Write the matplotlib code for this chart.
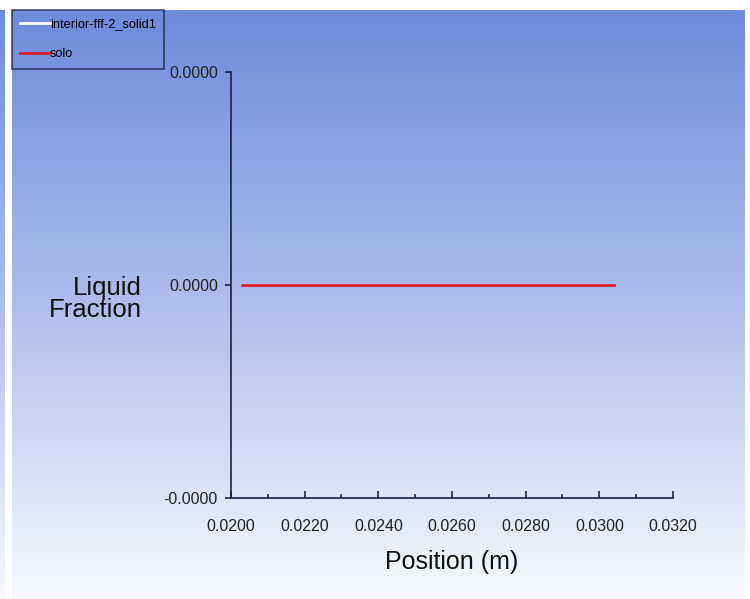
import numpy as np
import matplotlib
matplotlib.use("Agg")
import matplotlib.pyplot as plt
from matplotlib.colors import LinearSegmentedColormap
from matplotlib.ticker import MultipleLocator, FormatStrFormatter

plt.rcParams["font.family"] = ["Liberation Sans", "DejaVu Sans"]

# data
position = [0.0203, 0.0304]
liquid_fraction = [0.0, 0.0]
interior_position = [0.0203, 0.0304]
interior_fraction = [0.0, 0.0]
series_labels = ["interior-fff-2_solid1", "solo"]

W, H = 750, 599
fig = plt.figure(figsize=(7.5, 5.99), dpi=100, facecolor="white")

# gradient background, like the Fluent plot window
grad = LinearSegmentedColormap.from_list("bg", ["#6d8bdc", "#aebeec", "#f8f9fe"])
g = np.linspace(0, 1, 256).reshape(-1, 1)
for x0, x1 in [(0, 5), (12, 745)]:
    bg = fig.add_axes([x0 / W, 0, (x1 - x0) / W, 1 - 10 / H], zorder=-5)
    bg.imshow(g, aspect="auto", cmap=grad, extent=[0, 1, 0, 1])
    bg.axis("off")

ax = fig.add_axes([231 / W, 1 - 498 / H, 442 / W, 426 / H])
ax.patch.set_alpha(0)
ax.plot(interior_position, interior_fraction, color="white", lw=2, label=series_labels[0])
ax.plot(position, liquid_fraction, color="#dd1c2c", lw=2, label=series_labels[1])

ax.set_xlim(0.02, 0.032)
ax.set_ylim(-5e-6, 5e-6)
ax.xaxis.set_major_locator(MultipleLocator(0.002))
ax.xaxis.set_minor_locator(MultipleLocator(0.001))
ax.yaxis.set_major_locator(MultipleLocator(5e-6))
ax.xaxis.set_major_formatter(FormatStrFormatter("%.4f"))
ax.yaxis.set_major_formatter(FormatStrFormatter("%.4f"))

navy = "#1c2340"
for s in ["top", "right"]:
    ax.spines[s].set_visible(False)
for s in ["left", "bottom"]:
    ax.spines[s].set_color(navy)
    ax.spines[s].set_linewidth(1.2)
ax.tick_params(axis="x", which="major", direction="in", length=5, width=1.2,
               color=navy, pad=15, labelsize=11.5, labelcolor="#222222")
ax.tick_params(axis="x", which="minor", direction="in", length=3, width=1.2, color=navy)
ax.tick_params(axis="y", which="major", direction="out", length=4.5, width=1.2,
               color=navy, pad=5, labelsize=11.5, labelcolor="#222222")

ax.set_xlabel("Position (m)", fontsize=18, labelpad=12, color="#111111")
fig.text(142 / W, 1 - 299 / H, "Liquid\nFraction", ha="right", va="center",
         multialignment="right", fontsize=18.5, color="#111111", linespacing=0.92)

leg = fig.legend(loc="upper left", bbox_to_anchor=(12 / W, 1 - 10 / H),
                 bbox_transform=fig.transFigure, borderaxespad=0, fontsize=9.2,
                 frameon=True, fancybox=False, handlelength=2.3, handletextpad=0.0,
                 labelspacing=1.4, borderpad=0.65)
leg.get_frame().set_facecolor("none")
leg.get_frame().set_edgecolor(navy)
leg.get_frame().set_linewidth(1.2)

fig.savefig("out.png", dpi=100)
